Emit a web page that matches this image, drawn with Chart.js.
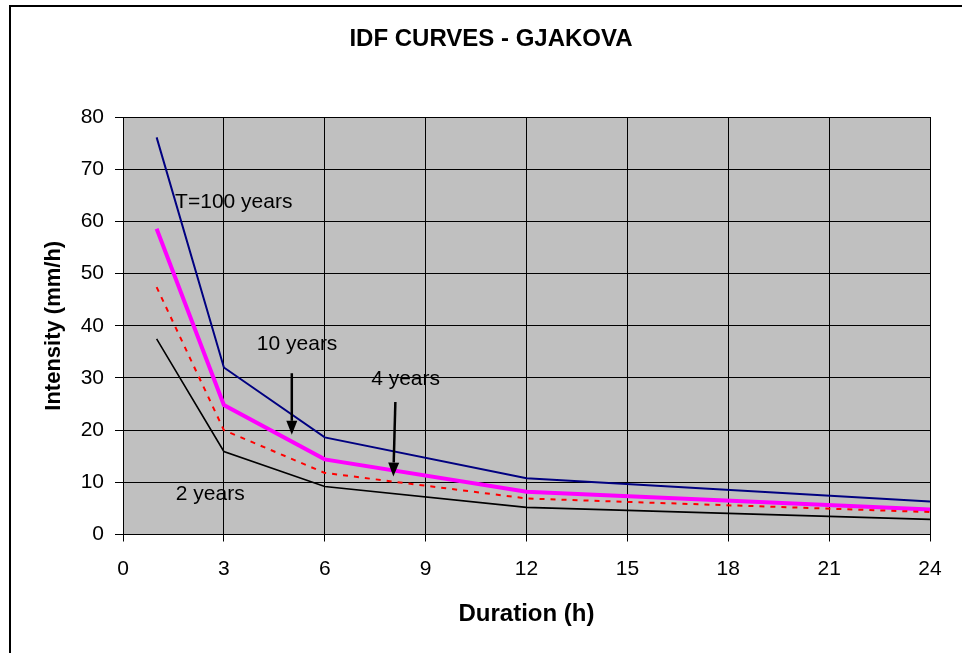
<!DOCTYPE html>
<html>
<head>
<meta charset="utf-8">
<script src="https://cdn.jsdelivr.net/npm/chart.js@4.4.1/dist/chart.umd.min.js"></script>
<style>
  html, body { margin: 0; padding: 0; background: #fff; overflow: hidden; }
  #wrap { position: relative; width: 962px; height: 653px; }
  #frame { position: absolute; left: 9px; top: 5px; width: 1000px; height: 1000px; border: 2px solid #000; box-sizing: border-box; }
  canvas { position: absolute; left: 0; top: 0; }
</style>
</head>
<body>
<div id="wrap">
  <div id="frame"></div>
  <canvas id="myChart" width="962" height="653"></canvas>
</div>
<script>
//DATA
const durations = [1, 3, 6, 12, 24];
const t100 = [76.1, 32.0, 18.6, 10.8, 6.3];
const t10 = [58.6, 24.8, 14.4, 8.2, 4.8];
const t4 = [47.4, 20.0, 11.8, 6.9, 4.3];
const t2 = [37.5, 15.9, 9.2, 5.2, 2.9];

//LABELS ON THE PLOT (data units)
const noteTexts = ["T=100 years", "10 years", "4 years", "2 years"];
const noteX = [1.55, 3.98, 7.38, 1.57];
const noteY = [62.6, 35.4, 28.6, 6.7];
// arrows: [x start, y start, x tip, y tip]
const arrows = [
  [5.02, 30.9, 5.02, 19.1],
  [8.1, 25.4, 8.04, 11.1],
];

const FONT = "'Liberation Sans', Arial, sans-serif";

function pts(ys) {
  return durations.map((d, i) => ({ x: d, y: ys[i] }));
}

//PLOT BACKGROUND + TITLE + NOTES
const extras = {
  id: "extras",
  beforeDraw(chart) {
    const { ctx, chartArea: a } = chart;
    ctx.save();
    ctx.fillStyle = "#c0c0c0";
    ctx.fillRect(a.left, a.top, a.right - a.left, a.bottom - a.top);
    ctx.restore();
  },
  afterDatasetsDraw(chart) {
    const { ctx } = chart;
    const xs = chart.scales.x;
    const ys = chart.scales.y;
    ctx.save();
    ctx.fillStyle = "#000";
    ctx.font = "bold 24px " + FONT;
    ctx.textAlign = "center";
    ctx.textBaseline = "middle";
    ctx.fillText("IDF CURVES - GJAKOVA", 491, 39);

    ctx.font = "21px " + FONT;
    ctx.textAlign = "left";
    ctx.textBaseline = "alphabetic";
    noteTexts.forEach((t, i) => {
      ctx.fillText(t, xs.getPixelForValue(noteX[i]), ys.getPixelForValue(noteY[i]));
    });

    arrows.forEach((ar) => {
      const x0 = xs.getPixelForValue(ar[0]);
      const y0 = ys.getPixelForValue(ar[1]);
      const x1 = xs.getPixelForValue(ar[2]);
      const y1 = ys.getPixelForValue(ar[3]);
      const ang = Math.atan2(y1 - y0, x1 - x0);
      const len = 14, half = 5.5;
      const bx = x1 - len * Math.cos(ang);
      const by = y1 - len * Math.sin(ang);
      ctx.strokeStyle = "#000";
      ctx.lineWidth = 2.5;
      ctx.beginPath();
      ctx.moveTo(x0, y0);
      ctx.lineTo(bx, by);
      ctx.stroke();
      ctx.beginPath();
      ctx.moveTo(x1, y1);
      ctx.lineTo(bx + half * Math.sin(ang), by - half * Math.cos(ang));
      ctx.lineTo(bx - half * Math.sin(ang), by + half * Math.cos(ang));
      ctx.closePath();
      ctx.fill();
    });
    ctx.restore();
  },
};

const config = {
  type: "scatter",
  data: {
    datasets: [
      { label: "T=2", data: pts(t2), borderColor: "#000000", borderWidth: 1.6 },
      { label: "T=4", data: pts(t4), borderColor: "#ff0000", borderWidth: 2, borderDash: [5, 6] },
      { label: "T=10", data: pts(t10), borderColor: "#ff00ff", borderWidth: 4 },
      { label: "T=100", data: pts(t100), borderColor: "#000080", borderWidth: 2 },
    ].map((d) => Object.assign(d, { showLine: true, pointRadius: 0, fill: false, tension: 0 })),
  },
  options: {
    responsive: false,
    animation: false,
    layout: { padding: { left: 30, top: 117, right: 32, bottom: 10 } },
    plugins: { legend: { display: false }, tooltip: { enabled: false } },
    scales: {
      x: {
        type: "linear",
        min: 0,
        max: 24,
        ticks: { stepSize: 3, color: "#000", padding: 15, font: { family: FONT, size: 21 } },
        grid: { color: "#000", lineWidth: 1, tickLength: 7 },
        border: { color: "#000", width: 1 },
        title: {
          display: true,
          text: "Duration (h)",
          color: "#000",
          padding: { top: 0, bottom: 14 },
          font: { family: FONT, size: 24, weight: "bold", lineHeight: 1.2 },
        },
        afterFit(scale) {
          scale.height = 108.5;
        },
      },
      y: {
        min: 0,
        max: 80,
        ticks: { stepSize: 10, color: "#000", padding: 11, font: { family: FONT, size: 21 } },
        grid: { color: "#000", lineWidth: 1, tickLength: 8 },
        border: { color: "#000", width: 1 },
        title: {
          display: true,
          text: "Intensity (mm/h)",
          color: "#000",
          padding: { top: 11, bottom: 0 },
          font: { family: FONT, size: 22, weight: "bold", lineHeight: 1.2 },
        },
        afterFit(scale) {
          scale.width = 93;
        },
      },
    },
  },
  plugins: [extras],
};

// RENDER CHART
const myChart = new Chart(document.getElementById("myChart"), config);
</script>
</body>
</html>
